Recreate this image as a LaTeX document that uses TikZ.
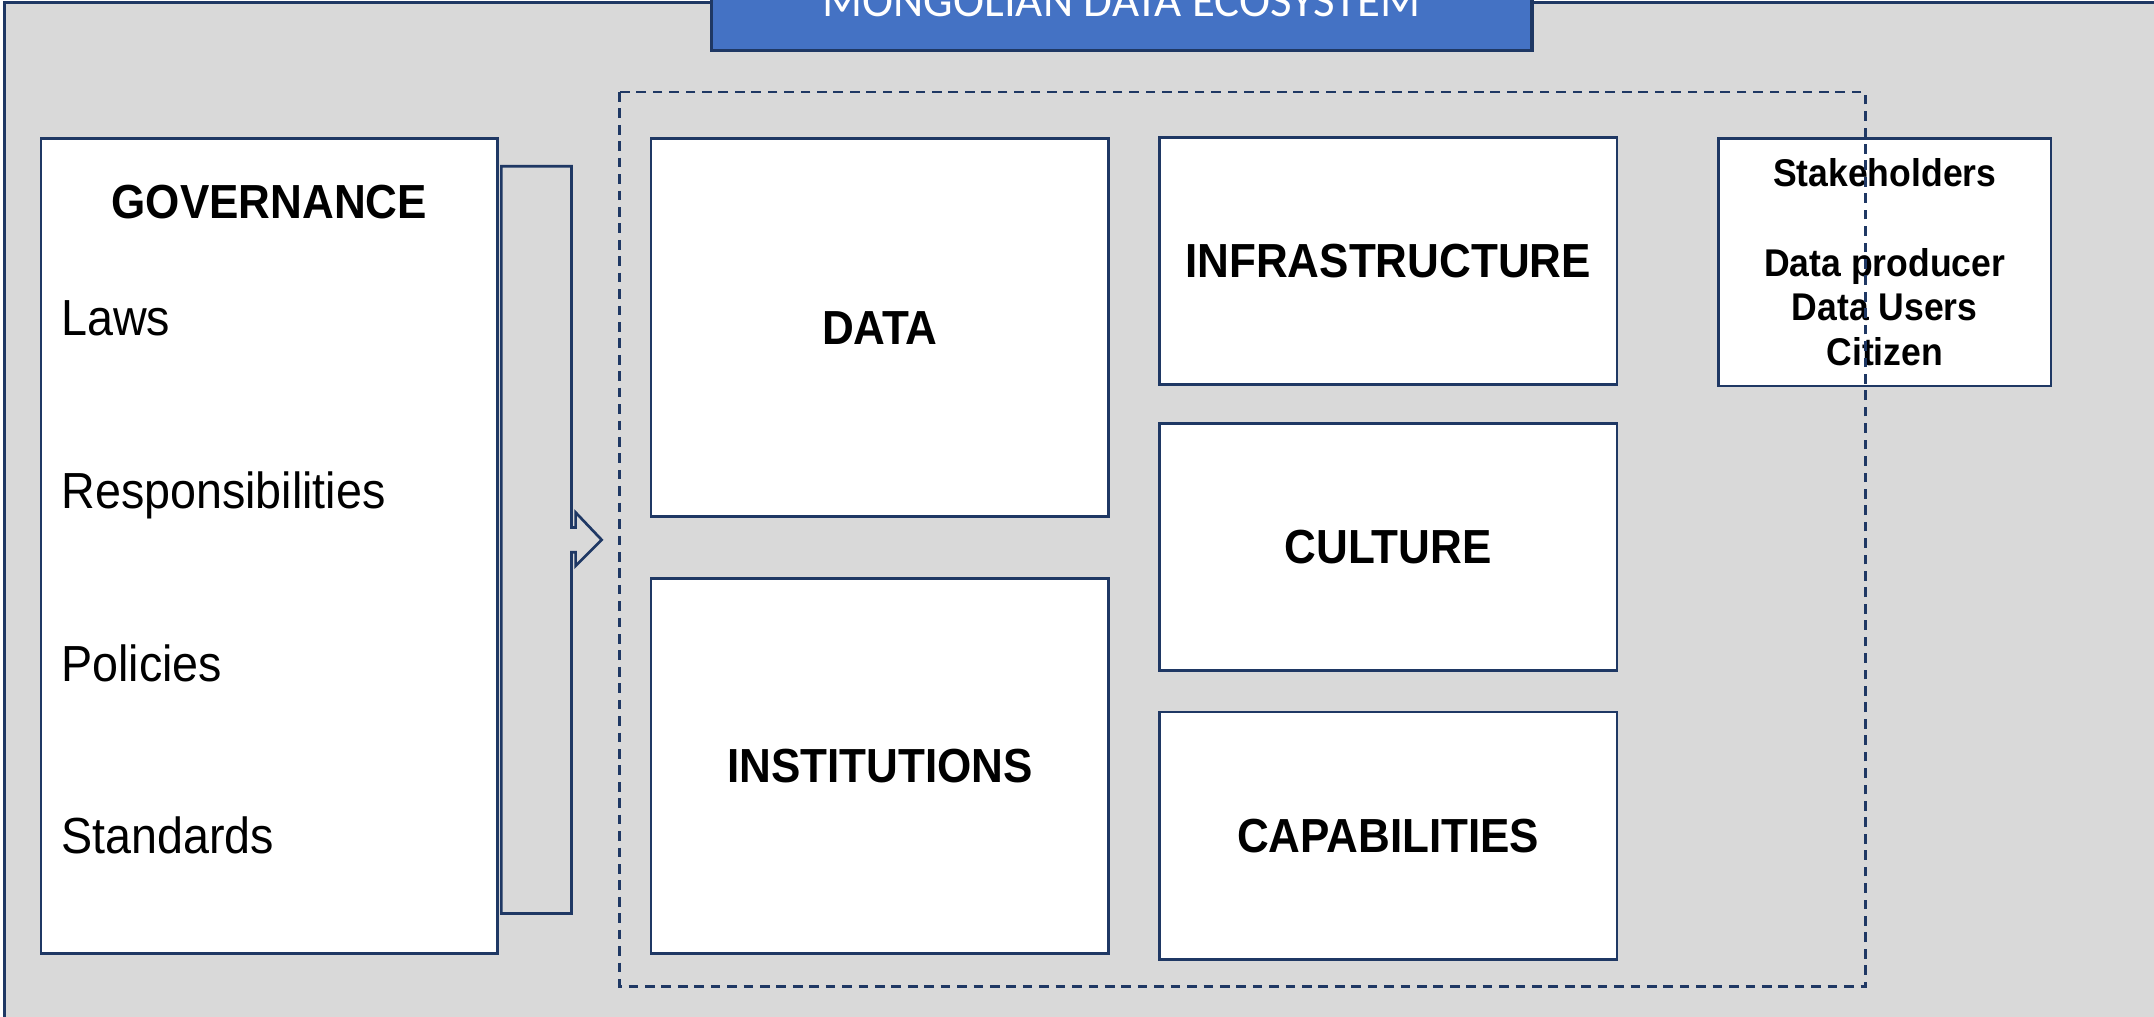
\documentclass[tikz,border=0pt]{standalone}
\usepackage{fontspec}
\setmainfont{Liberation Sans}[FakeStretch=0.92]
\newfontfamily\titlefont{Carlito}
\usetikzlibrary{positioning}
\definecolor{navy}{HTML}{1F3864}
\definecolor{panel}{HTML}{D9D9D9}
\definecolor{banner}{HTML}{4472C4}
\tikzset{block/.style={draw=navy,line width=0.55pt,fill=white,inner sep=0pt,outer sep=0pt,minimum width=3.33cm,minimum height=1.8cm,font=\fontsize{9.9}{11}\selectfont\bfseries}}
\tikzset{item/.style={anchor=base west,inner sep=0pt,font=\fontsize{10.5}{12}\selectfont}}

\begin{document}
\begin{tikzpicture}[x=0.01cm,y=-0.01cm,node distance=0.3cm]
\useasboundingbox (0,0) rectangle (1568,739.6);
\clip (0,0) rectangle (1568,739.6);
\draw[navy,line width=0.65pt,fill=panel] (3,2) rectangle (1650,820);

\node[draw=navy,line width=0.65pt,fill=banner,inner sep=0pt,minimum width=5.97cm,minimum height=0.72cm,text=white,font=\titlefont\fontsize{9.7}{11}\selectfont] (title) at (816.5,1) {MONGOLIAN DATA ECOSYSTEM};

\node[block,minimum width=3.32cm,minimum height=5.93cm] (gov) at (196,397.5) {};
\node[inner sep=0pt,font=\fontsize{9.9}{11}\selectfont\bfseries] (govhead) at (196,147) {GOVERNANCE};
\foreach \txt/\yy/\nm in {Laws/244/laws,Responsibilities/370/resp,Policies/496/pol,Standards/621.5/std}
  \node[item] (\nm) at (44,\yy) {\txt};

\draw[navy,line width=0.55pt,fill=panel] (365,121) -- (416,121) -- (416,384) -- (419,384) -- (419,373) -- (438,393) -- (419,412) -- (419,402) -- (416,402) -- (416,665) -- (365,665) -- cycle;

\node[block,minimum height=2.75cm] (data) at (640.5,238.5) {DATA};
\node[block,minimum height=2.73cm] [below=0.45cm of data] (inst) {INSTITUTIONS};
\node[block] (infra) at (1010.5,190) {INFRASTRUCTURE};
\node[block] [below=0.28cm of infra] (culture) {CULTURE};
\node[block] [below of=culture,node distance=2.1cm] (capab) {CAPABILITIES};

\node[block,minimum width=2.42cm,align=center,font=\fontsize{8}{9.25}\selectfont\bfseries] (stake) at (1372,191) {Stakeholders\\[9.25pt]Data producer\\Data Users\\Citizen};

\draw[navy,line width=0.6pt,dash pattern=on 2pt off 1.4pt] (451,67) rectangle (1358,718);
\end{tikzpicture}
\end{document}
